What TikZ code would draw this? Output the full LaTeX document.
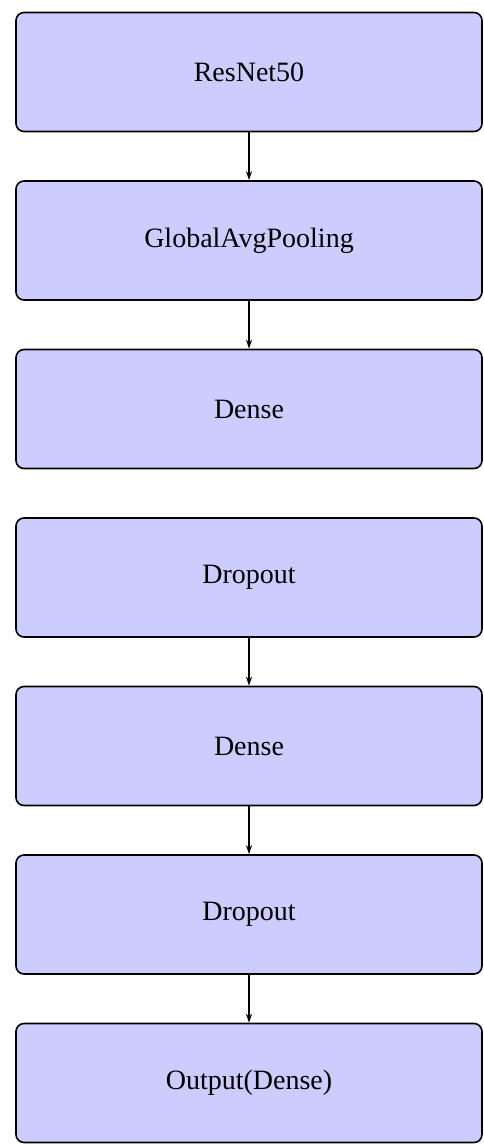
\documentclass[tikz,border=0pt]{standalone}
\usepackage{fontspec}
\setmainfont{Liberation Serif}
\usetikzlibrary{positioning,arrows.meta}

\begin{document}
\begin{tikzpicture}[layer/.style={draw, line width=1.6pt, fill=blue!20, rounded corners=8pt,
    minimum width=466pt, minimum height=119pt, inner sep=0pt,
    font=\fontsize{28}{32}\selectfont},
  node distance=47.9pt,
  >={Stealth[length=9pt,width=6pt]}]
\useasboundingbox (0,0) rectangle (483pt,-1144pt);
\coordinate (origin) at (249pt,-72pt);
\node[layer] at (origin) (resnet) {ResNet50};

\node[layer, below=of resnet] (gap) {GlobalAvgPooling};
\node[layer, below=of gap] (dense1) {Dense};
\node[layer, below=of dense1] (drop1) {Dropout};
\node[layer, below=of drop1] (dense2) {Dense};
\node[layer, below=of dense2] (drop2) {Dropout};
\node[layer, below=of drop2] (out) {Output(Dense)};

\draw[->, line width=1.2pt] (resnet) -- (gap);
\draw[->, line width=1.2pt] (gap) -- (dense1);

\draw[->, line width=1.2pt] (drop1) -- (dense2);
\draw[->, line width=1.2pt] (dense2) -- (drop2);
\draw[->, line width=1.2pt] (drop2) -- (out);
\end{tikzpicture}
\end{document}
